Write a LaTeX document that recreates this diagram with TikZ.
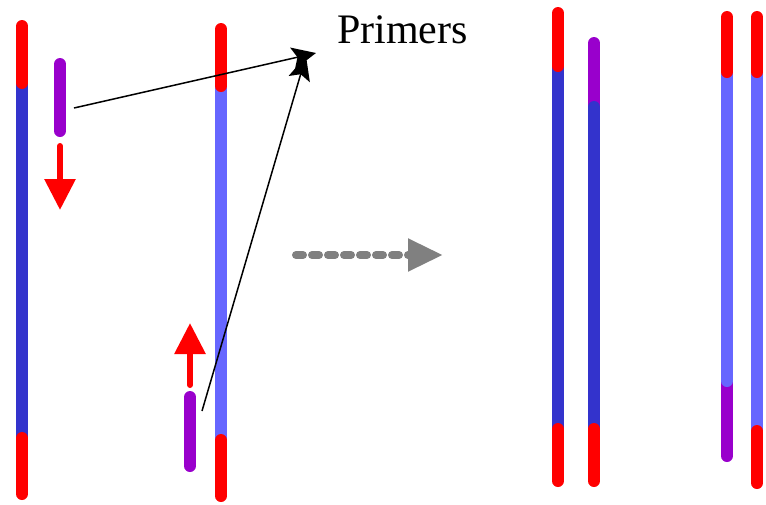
\documentclass[tikz,border=0pt]{standalone}
\usepackage{fontspec}
\setmainfont{Liberation Serif}
\usetikzlibrary{arrows.meta}
\definecolor{dnadark}{HTML}{3333CC}
\definecolor{dnalight}{HTML}{6666FF}
\definecolor{tagred}{HTML}{FF0000}
\definecolor{primerpurple}{HTML}{9900CC}
\definecolor{flowgray}{HTML}{808080}

\begin{document}
\begin{tikzpicture}[x=1pt,y=-1pt,line cap=round,
  seg/.style={line width=12pt},
  dark/.style={seg,dnadark},
  light/.style={seg,dnalight},
  tag/.style={seg,tagred},
  primer/.style={seg,primerpurple},
  extend/.style={tagred,line width=6pt,-{Triangle[width=30pt,length=31pt]}},
  pointer/.style={black,line width=1.5pt,line cap=butt,-{Stealth[length=24pt,width=22pt,inset=5pt]}},
  flow/.style={flowgray,line width=8pt,dash pattern=on 7pt off 9pt,-{Triangle[width=31pt,length=35pt]}}]
\useasboundingbox (0,0) rectangle (766,504);

% template strands
\draw[dark] (22,83) -- (22,438);
\draw[tag] (22,26) -- (22,83);
\draw[tag] (22,438) -- (22,494);
\draw[light] (221,86) -- (221,440);
\draw[tag] (221,29) -- (221,86);
\draw[tag] (221,440) -- (221,496);

% primers and direction of extension
\draw[primer] (60,64) -- (60,131);
\draw[extend] (60,146) -- (60,210);
\draw[primer] (190,397) -- (190,466);
\draw[extend] (190,385) -- (190,323);

% label
\node[anchor=base west,inner sep=0pt,font=\fontsize{42}{50}\selectfont] (lbl) at (337,43) {Primers};
\coordinate (tipA) at (316,53);
\coordinate (tipB) at (306,56);
\coordinate (fromA) at (74,108);
\coordinate (fromB) at (202,411);
\draw[pointer] (fromA) -- (tipA);
\draw[pointer] (fromB) -- (tipB);

% next step
\coordinate (fl) at (296,255);
\coordinate (fr) at (443,255);
\draw[flow] (fl) -- (fr);

% products
\draw[dark] (558,66) -- (558,429);
\draw[tag] (558,13) -- (558,66);
\draw[tag] (558,429) -- (558,481);
\draw[primer] (594,43) -- (594,110);
\draw[dark] (594,107) -- (594,429);
\draw[tag] (594,429) -- (594,481);

\draw[primer] (727,378) -- (727,456);
\draw[light] (727,72) -- (727,381);
\draw[tag] (727,17) -- (727,72);
\draw[light] (757,72) -- (757,431);
\draw[tag] (757,17) -- (757,72);
\draw[tag] (757,431) -- (757,483);
\end{tikzpicture}
\end{document}
